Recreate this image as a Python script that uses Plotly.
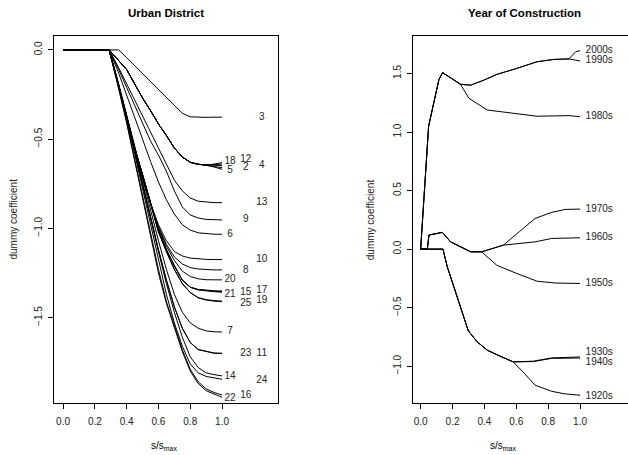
import plotly.graph_objects as go

# ---------------- Urban District (left panel) ----------------
X_GRID = [0.0, 0.29, 0.35, 0.40, 0.45, 0.50, 0.55, 0.60, 0.65, 0.70, 0.75, 0.80, 0.85, 0.90, 0.95, 1.00]

district_paths = {
    "3":  [0, 0, 0.0, -0.043, -0.088, -0.133, -0.178, -0.223, -0.268, -0.313, -0.355, -0.375, -0.378, -0.378, -0.377, -0.377],
    "18": [0, 0, -0.06, -0.11, -0.19, -0.27, -0.34, -0.415, -0.48, -0.55, -0.60, -0.63, -0.641, -0.645, -0.640, -0.632],
    "12": [0, 0, -0.06, -0.11, -0.19, -0.27, -0.34, -0.415, -0.48, -0.55, -0.60, -0.63, -0.641, -0.645, -0.643, -0.640],
    "4":  [0, 0, -0.06, -0.11, -0.19, -0.27, -0.34, -0.415, -0.48, -0.55, -0.60, -0.63, -0.641, -0.645, -0.647, -0.649],
    "2":  [0, 0, -0.06, -0.11, -0.19, -0.27, -0.34, -0.415, -0.48, -0.55, -0.60, -0.63, -0.641, -0.646, -0.652, -0.660],
    "5":  [0, 0, -0.06, -0.11, -0.19, -0.27, -0.34, -0.415, -0.48, -0.55, -0.60, -0.63, -0.641, -0.646, -0.656, -0.669],
    "13": [0, 0, -0.10, -0.19, -0.28, -0.37, -0.46, -0.55, -0.64, -0.73, -0.79, -0.83, -0.848, -0.854, -0.856, -0.856],
    "9":  [0, 0, -0.11, -0.21, -0.31, -0.41, -0.51, -0.59, -0.68, -0.79, -0.88, -0.925, -0.942, -0.950, -0.952, -0.953],
    "6":  [0, 0, -0.13, -0.25, -0.37, -0.50, -0.625, -0.74, -0.84, -0.92, -0.98, -1.01, -1.025, -1.030, -1.033, -1.033],
    "10": [0, 0, -0.20, -0.38, -0.56, -0.72, -0.86, -0.98, -1.07, -1.13, -1.155, -1.167, -1.172, -1.174, -1.175, -1.175],
    "8":  [0, 0, -0.20, -0.37, -0.55, -0.71, -0.86, -0.99, -1.09, -1.16, -1.20, -1.22, -1.228, -1.232, -1.233, -1.233],
    "20": [0, 0, -0.20, -0.37, -0.55, -0.70, -0.86, -1.00, -1.10, -1.18, -1.24, -1.27, -1.283, -1.288, -1.289, -1.289],
    "21": [0, 0, -0.20, -0.37, -0.55, -0.70, -0.86, -1.01, -1.12, -1.21, -1.29, -1.33, -1.345, -1.352, -1.355, -1.358],
    "15": [0, 0, -0.20, -0.37, -0.55, -0.70, -0.86, -1.01, -1.12, -1.21, -1.29, -1.33, -1.344, -1.350, -1.353, -1.355],
    "17": [0, 0, -0.20, -0.37, -0.55, -0.70, -0.86, -1.01, -1.12, -1.21, -1.29, -1.33, -1.342, -1.348, -1.350, -1.351],
    "25": [0, 0, -0.20, -0.37, -0.55, -0.70, -0.86, -1.02, -1.13, -1.23, -1.31, -1.36, -1.390, -1.402, -1.408, -1.411],
    "19": [0, 0, -0.20, -0.37, -0.55, -0.70, -0.86, -1.02, -1.13, -1.23, -1.31, -1.36, -1.388, -1.400, -1.405, -1.408],
    "7":  [0, 0, -0.19, -0.36, -0.54, -0.72, -0.90, -1.07, -1.23, -1.37, -1.47, -1.53, -1.560, -1.575, -1.580, -1.581],
    "23": [0, 0, -0.20, -0.37, -0.56, -0.75, -0.94, -1.12, -1.29, -1.44, -1.56, -1.64, -1.680, -1.692, -1.700, -1.702],
    "11": [0, 0, -0.20, -0.37, -0.56, -0.75, -0.94, -1.12, -1.29, -1.44, -1.56, -1.64, -1.679, -1.691, -1.699, -1.700],
    "14": [0, 0, -0.20, -0.38, -0.57, -0.76, -0.95, -1.13, -1.31, -1.47, -1.61, -1.72, -1.780, -1.810, -1.820, -1.827],
    "24": [0, 0, -0.20, -0.38, -0.58, -0.78, -0.98, -1.18, -1.37, -1.53, -1.66, -1.76, -1.810, -1.830, -1.840, -1.846],
    "16": [0, 0, -0.21, -0.40, -0.61, -0.82, -1.03, -1.23, -1.41, -1.55, -1.68, -1.79, -1.860, -1.900, -1.920, -1.934],
    "22": [0, 0, -0.22, -0.41, -0.62, -0.83, -1.04, -1.25, -1.42, -1.56, -1.69, -1.80, -1.870, -1.910, -1.930, -1.947],
}

district_label_names = ["3", "18", "12", "4", "5", "2", "13", "9", "6", "10", "8", "20",
                        "21", "15", "17", "25", "19", "7", "23", "11", "14", "24", "22", "16"]
district_label_x = [1.25, 1.05, 1.15, 1.25, 1.05, 1.15, 1.25, 1.15, 1.05, 1.25, 1.15, 1.05,
                    1.05, 1.15, 1.25, 1.15, 1.25, 1.05, 1.15, 1.25, 1.05, 1.25, 1.05, 1.15]
district_label_y = [-0.377, -0.626, -0.613, -0.650, -0.676, -0.660, -0.856, -0.949, -1.033, -1.177, -1.237, -1.289,
                    -1.370, -1.360, -1.351, -1.420, -1.405, -1.581, -1.702, -1.702, -1.831, -1.854, -1.952, -1.938]

# ---------------- Year of Construction (right panel) ----------------
decade_x = {
    "1990s": [0, 0.05, 0.115, 0.138, 0.25, 0.314, 0.40, 0.48, 0.586, 0.73, 0.837, 0.93, 1.0],
    "2000s": [0, 0.05, 0.115, 0.138, 0.25, 0.314, 0.40, 0.48, 0.586, 0.73, 0.837, 0.93, 0.973, 1.0],
    "1980s": [0, 0.05, 0.115, 0.138, 0.25, 0.303, 0.418, 0.586, 0.73, 0.93, 1.0],
    "1970s": [0, 0.042, 0.052, 0.136, 0.188, 0.314, 0.383, 0.519, 0.62, 0.718, 0.822, 0.906, 1.0],
    "1960s": [0, 0.042, 0.052, 0.136, 0.188, 0.314, 0.383, 0.519, 0.718, 0.822, 1.0],
    "1950s": [0, 0.042, 0.052, 0.136, 0.188, 0.314, 0.383, 0.477, 0.603, 0.73, 0.85, 1.0],
    "1930s": [0, 0.14, 0.167, 0.209, 0.251, 0.299, 0.355, 0.418, 0.50, 0.581, 0.707, 0.822, 1.0],
    "1940s": [0, 0.14, 0.167, 0.209, 0.251, 0.299, 0.355, 0.418, 0.50, 0.581, 0.707, 0.822, 1.0],
    "1920s": [0, 0.14, 0.167, 0.209, 0.251, 0.299, 0.355, 0.418, 0.50, 0.581, 0.65, 0.718, 0.822, 0.90, 1.0],
}
decade_y = {
    "1990s": [0, 1.05, 1.45, 1.507, 1.408, 1.40, 1.445, 1.493, 1.536, 1.60, 1.62, 1.624, 1.607],
    "2000s": [0, 1.05, 1.45, 1.507, 1.408, 1.40, 1.445, 1.493, 1.536, 1.60, 1.62, 1.624, 1.686, 1.695],
    "1980s": [0, 1.05, 1.45, 1.507, 1.408, 1.288, 1.188, 1.16, 1.135, 1.14, 1.131],
    "1970s": [0, 0, 0.12, 0.143, 0.062, -0.023, -0.023, 0.034, 0.15, 0.262, 0.314, 0.339, 0.342],
    "1960s": [0, 0, 0.12, 0.143, 0.062, -0.023, -0.023, 0.034, 0.062, 0.091, 0.097],
    "1950s": [0, 0, 0.12, 0.143, 0.062, -0.023, -0.023, -0.137, -0.208, -0.274, -0.29, -0.293],
    "1930s": [0, 0, -0.151, -0.322, -0.493, -0.698, -0.792, -0.863, -0.915, -0.963, -0.957, -0.929, -0.921],
    "1940s": [0, 0, -0.151, -0.322, -0.493, -0.698, -0.792, -0.863, -0.915, -0.963, -0.960, -0.933, -0.930],
    "1920s": [0, 0, -0.151, -0.322, -0.493, -0.698, -0.792, -0.863, -0.915, -0.963, -1.06, -1.162, -1.214, -1.235, -1.248],
}
decade_labels = ["2000s", "1990s", "1980s", "1970s", "1960s", "1950s", "1930s", "1940s", "1920s"]
decade_label_y = [1.692, 1.607, 1.131, 0.342, 0.097, -0.293, -0.886, -0.972, -1.256]
DECADE_LABEL_X = 1.035

TICKS_LEFT_Y = [0.0, -0.5, -1.0, -1.5]
TICKS_RIGHT_Y = [1.5, 1.0, 0.5, 0.0, -0.5, -1.0]
TICKS_X = [0.0, 0.2, 0.4, 0.6, 0.8, 1.0]

FONT = "Liberation Sans, Arial, Helvetica, sans-serif"
W, H = 628, 455

fig = go.Figure()

for name, ys in district_paths.items():
    fig.add_trace(go.Scatter(x=X_GRID, y=ys, mode="lines", xaxis="x", yaxis="y",
                             line=dict(color="black", width=1), showlegend=False, hoverinfo="skip"))
fig.add_trace(go.Scatter(x=district_label_x, y=district_label_y, mode="text", text=district_label_names,
                         textposition="middle center", textfont=dict(family=FONT, size=10, color="#222"),
                         xaxis="x", yaxis="y", showlegend=False, hoverinfo="skip"))

for name in decade_x:
    fig.add_trace(go.Scatter(x=decade_x[name], y=decade_y[name], mode="lines", xaxis="x2", yaxis="y2",
                             line=dict(color="black", width=1), showlegend=False, hoverinfo="skip"))
fig.add_trace(go.Scatter(x=[DECADE_LABEL_X] * len(decade_labels), y=decade_label_y, mode="text",
                         text=decade_labels, textposition="middle right",
                         textfont=dict(family=FONT, size=10, color="#222"),
                         xaxis="x2", yaxis="y2", showlegend=False, hoverinfo="skip"))

ydom = [1 - 403 / H, 1 - 36 / H]
axis_common = dict(showgrid=False, zeroline=False, showline=True, linecolor="black", linewidth=1,
                   ticks="outside", ticklen=5, tickcolor="black", tickwidth=1,
                   tickfont=dict(family=FONT, size=10, color="#222"))

fig.update_layout(
    width=W, height=H, margin=dict(l=0, r=0, t=0, b=0),
    paper_bgcolor="white", plot_bgcolor="white", showlegend=False,
    xaxis=dict(domain=[54 / W, 278 / W], range=[-0.057, 1.352], tickvals=TICKS_X,
               ticktext=[f"{v:.1f}" for v in TICKS_X], mirror=True, anchor="y", ticklabelstandoff=4, **axis_common),
    yaxis=dict(domain=ydom, range=[-1.979, 0.078], tickvals=TICKS_LEFT_Y,
               ticktext=["0.0", "\u22120.5", "\u22121.0", "\u22121.5"], tickangle=-90, mirror=True,
               anchor="x", ticklabelstandoff=2, **axis_common),
    xaxis2=dict(domain=[413 / W, 1.0], range=[-0.048, 1.301], tickvals=TICKS_X,
                ticktext=[f"{v:.1f}" for v in TICKS_X], mirror=True, anchor="y2", ticklabelstandoff=4, **axis_common),
    yaxis2=dict(domain=ydom, range=[-1.314, 1.82], tickvals=TICKS_RIGHT_Y,
                ticktext=["1.5", "1.0", "0.5", "0.0", "\u22120.5", "\u22121.0"], tickangle=-90, mirror=False,
                anchor="x2", ticklabelstandoff=2, **axis_common),
)

annos = [
    dict(text="<b>Urban District</b>", x=166 / W, y=1 - 12.7 / H, size=11.5),
    dict(text="<b>Year of Construction</b>", x=524 / W, y=1 - 12.7 / H, size=11.5),
    dict(text="s/s<sub>max</sub>", x=164 / W, y=1 - 446 / H, size=10),
    dict(text="s/s<sub>max</sub>", x=503 / W, y=1 - 446 / H, size=10),
]
for a in annos:
    fig.add_annotation(text=a["text"], x=a["x"], y=a["y"], xref="paper", yref="paper",
                       xanchor="center", yanchor="middle", showarrow=False,
                       font=dict(family=FONT, size=a["size"], color="black"))
for xp in [13, 370.7]:
    fig.add_annotation(text="dummy coefficient", x=xp / W, y=1 - 219.5 / H, xref="paper", yref="paper",
                       xanchor="center", yanchor="middle", showarrow=False, textangle=-90,
                       font=dict(family=FONT, size=10, color="#222"))

fig.write_html("out.html")
